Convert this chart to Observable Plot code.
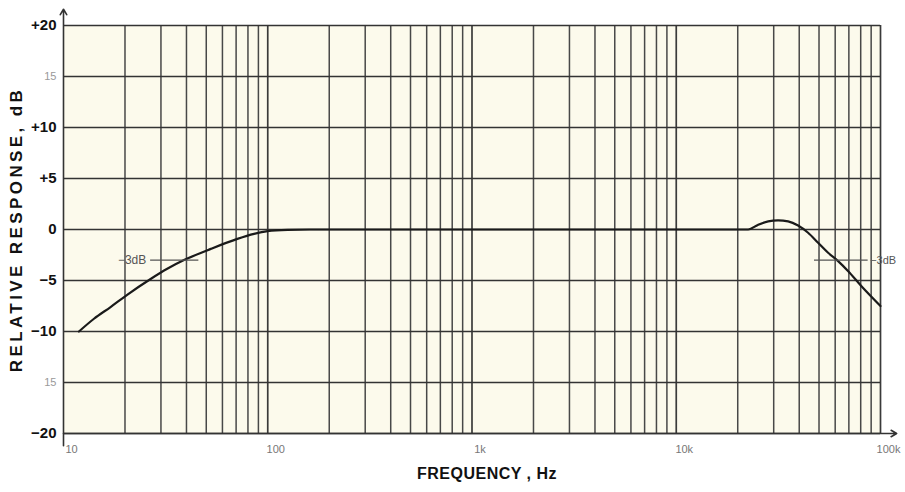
<!DOCTYPE html>
<html>
<head>
<meta charset="utf-8">
<script src="https://cdn.jsdelivr.net/npm/d3@7"></script>
<script src="https://cdn.jsdelivr.net/npm/@observablehq/plot@0.6"></script>
<style>
  body { margin: 0; background: #ffffff; }
  #chart svg { display: block; }
</style>
</head>
<body>
<div id="chart"></div>
<script>
// Frequency response curve (Hz, dB)
const freqs = [11.9, 14.1, 17, 20.5, 26.7, 32.2, 38.9, 52.6, 71, 85.7, 99.7, 125, 160,
  1000, 10000, 20000, 22500, 25100, 28200, 31500, 35300, 39500, 44200, 49500, 55400, 62000, 69500, 80700, 100000];
const dBs   = [-10, -8.75, -7.6, -6.4, -4.85, -3.85, -3.0, -1.9, -0.92, -0.43, -0.16, -0.03, 0,
  0, 0, 0, 0, 0.45, 0.8, 0.9, 0.8, 0.39, -0.32, -1.3, -2.28, -3.1, -4.09, -5.56, -7.5];

// Grid frequencies
const minorFreqs = [20,30,40,50,60,70,80,90, 200,300,400,500,600,700,800,900,
  2000,3000,4000,5000,6000,7000,8000,9000, 20000,30000,40000,50000,60000,70000,80000,90000];
const majorFreqs = [10, 100, 1000, 10000, 100000];
const majorLabels = ["10", "100", "1k", "10k", "100k"];

// dB ticks
const dbTicks = [20, 10, 5, 0, -5, -10, -20];
const dbLabels = ["+20", "+10", "+5", "0", "−5", "−10", "−20"];
const fadedTicks = [15, -15];
const fadedLabels = ["15", "15"];
const gridDb = [20, 15, 10, 5, 0, -5, -10, -15, -20];

// -3 dB markers
const markLeft = {x1: 26.7, x2: 46, y: -3, textX: 26, label: "−3dB"};
const markRight = {x1: 47500, x2: 87000, y: -3, textX: 89000, label: "−3dB"};

const curve = freqs.map((f, i) => ({f, db: dBs[i]}));
const font = "Liberation Sans, Arial, Helvetica, sans-serif";

const chart = Plot.plot({
  width: 905,
  height: 492,
  marginLeft: 63,
  marginRight: 25,
  marginTop: 25,
  marginBottom: 59,
  style: {fontFamily: font, background: "#ffffff"},
  x: {type: "log", domain: [10, 100000], axis: null},
  y: {domain: [-20, 20], axis: null},
  marks: [
    Plot.frame({fill: "#fcfaec", stroke: null}),
    Plot.ruleX(minorFreqs, {y1: -20, y2: 20, stroke: "#484848", strokeWidth: 1.5}),
    Plot.ruleX(majorFreqs.slice(1), {y1: -20, y2: 20, stroke: "#3a3a3a", strokeWidth: 1.7}),
    Plot.ruleY(gridDb, {x1: 10, x2: 100000, stroke: "#333", strokeWidth: 1.6}),
    // axes with arrows
    Plot.arrow([0], {x1: 10, x2: 10, y1: -21.2, y2: 21.6, stroke: "#333", strokeWidth: 1.6, headLength: 6}),
    Plot.arrow([0], {x1: 10, x2: 120000, y1: -20, y2: -20, stroke: "#333", strokeWidth: 1.6, headLength: 6}),
    // curve
    Plot.line(curve, {x: "f", y: "db", curve: "monotone-x", stroke: "#1a1a1a", strokeWidth: 2.2}),
    // -3 dB markers
    Plot.ruleY([markLeft], {x1: "x1", x2: "x2", y: "y", stroke: "#555", strokeWidth: 1.2}),
    Plot.text([markLeft], {x: "textX", y: "y", text: "label", textAnchor: "end", fontSize: 12, fill: "#555", dx: -2}),
    Plot.ruleY([markRight], {x1: "x1", x2: "x2", y: "y", stroke: "#555", strokeWidth: 1.2}),
    Plot.text([markRight], {x: "textX", y: "y", text: "label", textAnchor: "start", fontSize: 11, fill: "#555"}),
    // y tick labels
    Plot.text(dbTicks, {x: 10, y: d => d, text: (d, i) => dbLabels[i], textAnchor: "end", dx: -7, fontSize: 15, fontWeight: "bold", fill: "#111"}),
    Plot.text(fadedTicks, {x: 10, y: d => d, text: (d, i) => fadedLabels[i], textAnchor: "end", dx: -7, fontSize: 11, fill: "#999"}),
    // x tick labels
    Plot.text(majorFreqs, {x: d => d, y: -20, text: (d, i) => majorLabels[i], dx: 8, dy: 16, fontSize: 11, fill: "#777"}),
    // axis titles
    Plot.text(["RELATIVE RESPONSE, dB"], {frameAnchor: "left", textAnchor: "middle", dx: -47, rotate: -90, fontSize: 17, fontWeight: "bold", fill: "#111"}),
    Plot.text(["FREQUENCY , Hz"], {frameAnchor: "bottom", dx: 15, dy: 45, fontSize: 16, fontWeight: "bold", fill: "#111"})
  ]
});
chart.querySelectorAll("text").forEach(t => {
  if (t.textContent === "RELATIVE RESPONSE, dB") t.setAttribute("letter-spacing", "3.4");
  if (t.textContent === "FREQUENCY , Hz") t.setAttribute("letter-spacing", "0.5");
});
document.getElementById("chart").appendChild(chart);
</script>
</body>
</html>
